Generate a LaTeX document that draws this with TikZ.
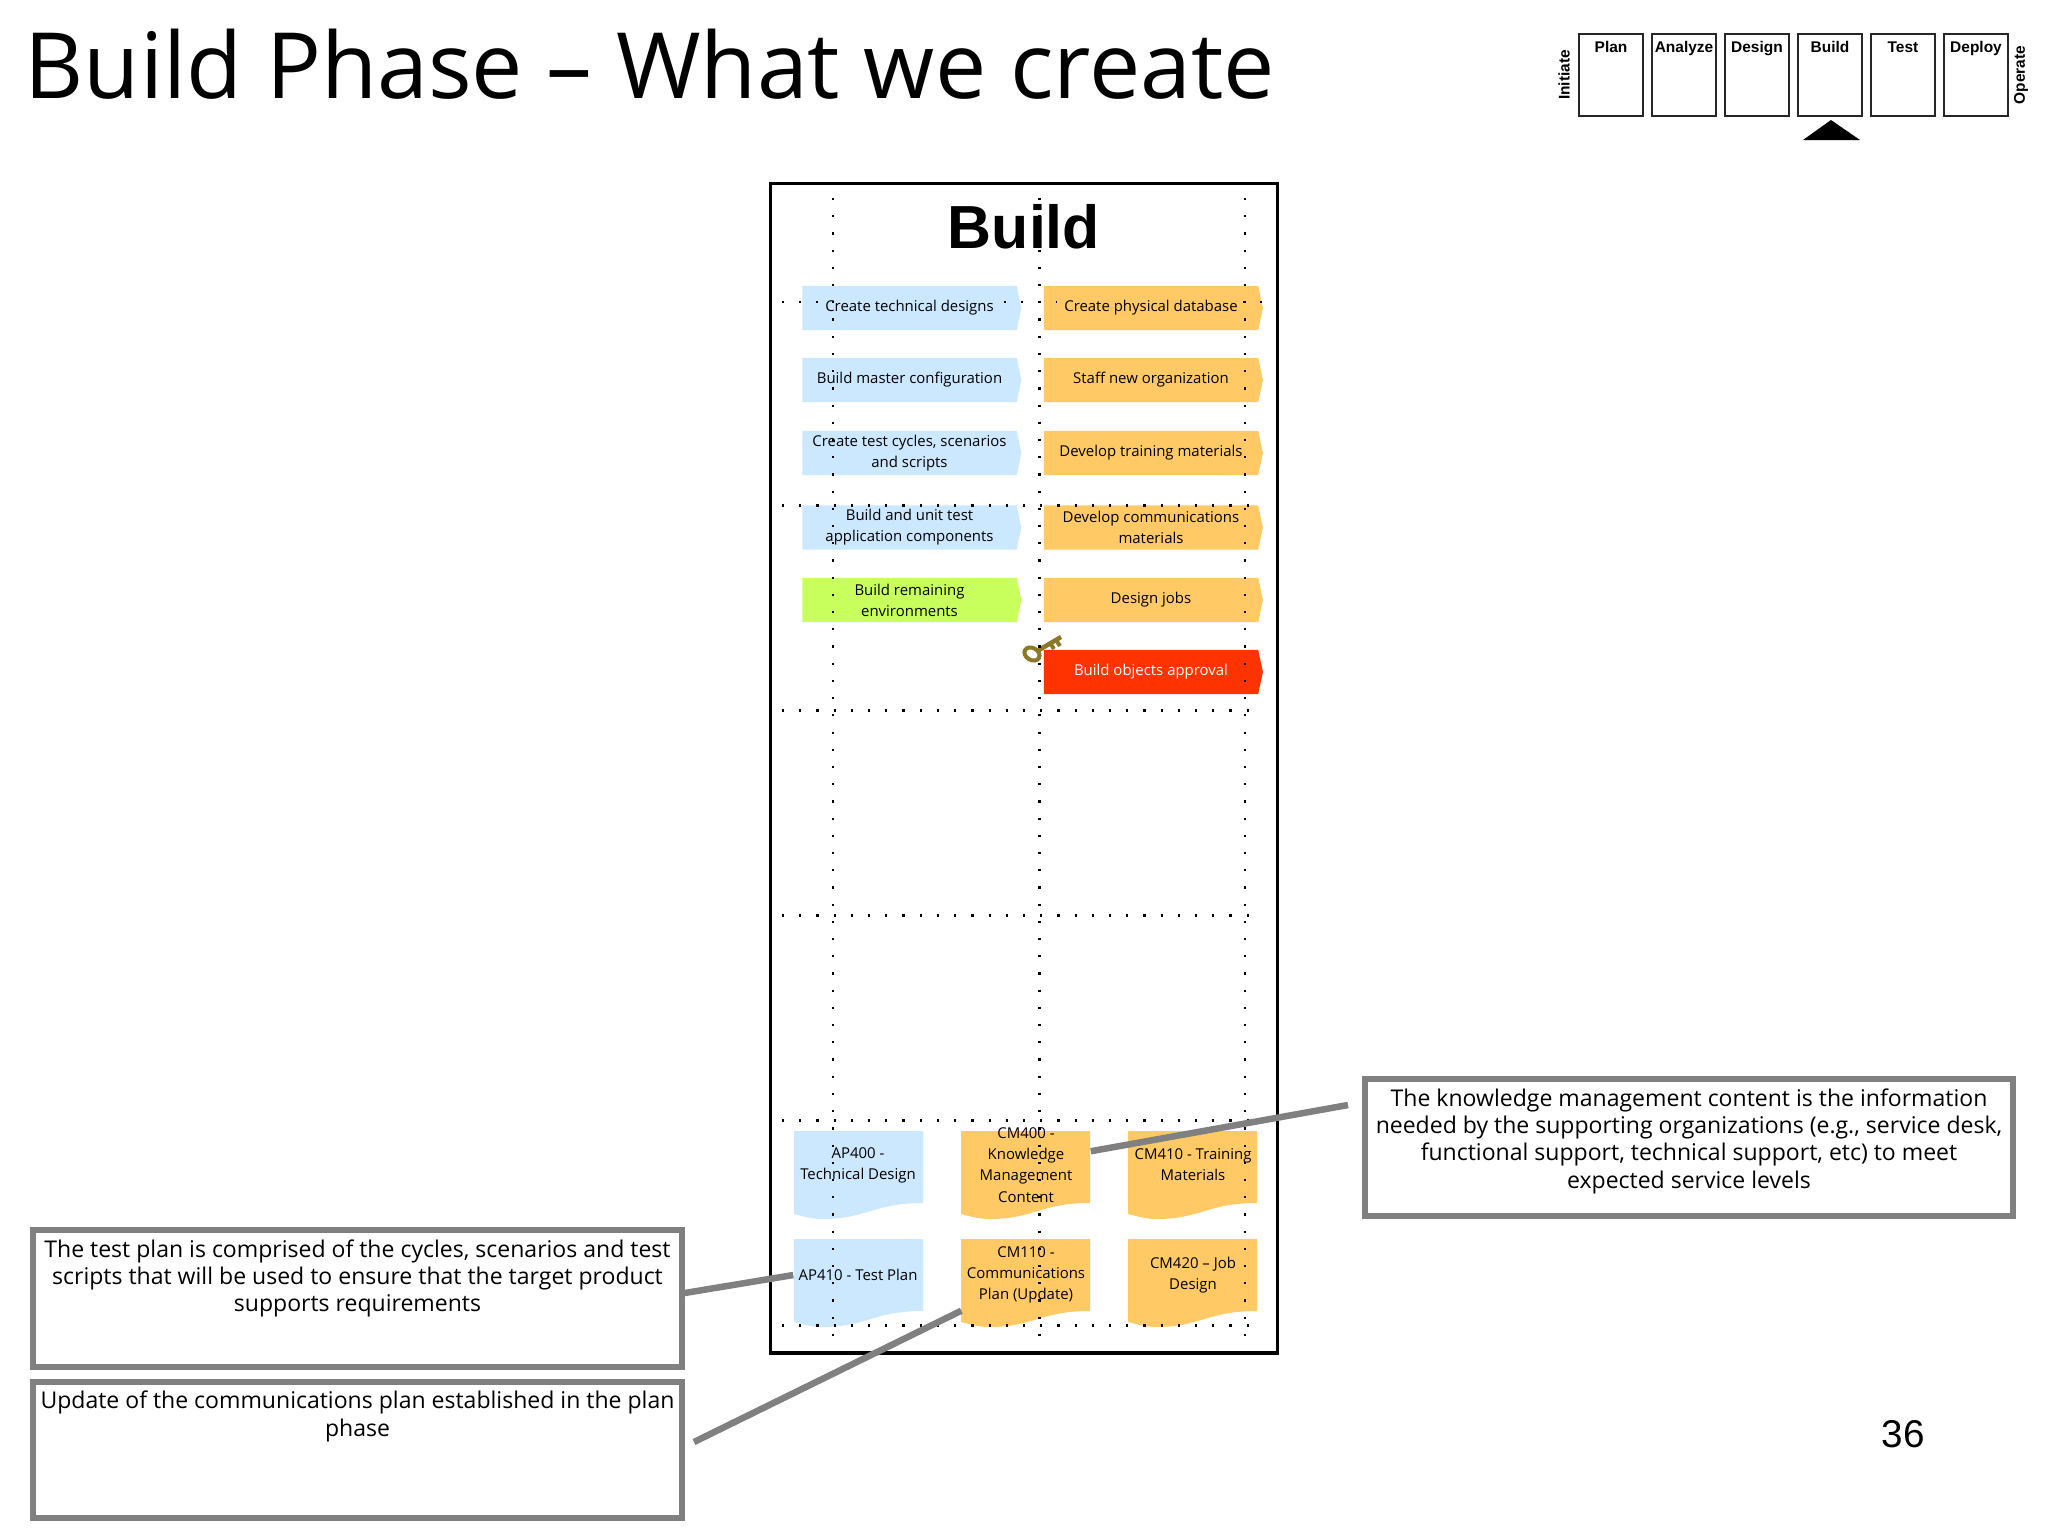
\documentclass[tikz,border=0pt]{standalone}
\usepackage{fontspec}
\setmainfont{Open Sans}
\newfontfamily\navfont{Liberation Sans}
\usetikzlibrary{positioning,shapes.symbols}
\definecolor{barblue}{HTML}{CCE8FF}
\definecolor{barorange}{HTML}{FFC966}
\definecolor{bargreen}{HTML}{C8FF5C}
\definecolor{barred}{HTML}{FF3300}
\definecolor{notegray}{HTML}{808080}
\definecolor{keygold}{HTML}{8A7A28}
\newcommand{\notetext}[1]{\parbox[t][1.18cm][t]{6.44cm}{\centering\fontsize{6.55}{7.8}\selectfont #1}}
\newcommand{\navtext}[1]{\parbox[t][0.67cm][t]{0.64cm}{\centering #1}}
\newcommand{\docfill}[3]{\fill[#1] (#2,#3) -- ++(129,0) -- ++(0,72) .. controls ++(-50,0) and ++(45,0) .. ++(-101,16) .. controls ++(-10,0) and ++(8,2) .. ++(-28,-5) -- cycle;}
\tikzset{
    barnode/.style={signal, signal to=east, signal pointer angle=156, minimum width=2.19cm, minimum height=0.44cm, inner sep=0pt, align=center, font=\fontsize{4.25}{6}\selectfont},
    docnode/.style={minimum width=1.28cm, minimum height=0.7cm, inner sep=0pt, align=center, font=\fontsize{4.25}{6}\selectfont},
    notebox/.style={draw=notegray, line width=0.06cm, fill=white, minimum width=6.48cm, minimum height=1.36cm, inner sep=0pt},
    navbox/.style={draw=black!85, line width=0.022cm, minimum width=0.64cm, minimum height=0.82cm, inner sep=0pt, font=\navfont\bfseries\fontsize{4.4}{5}\selectfont},
    navside/.style={rotate=90, inner sep=0pt, font=\navfont\bfseries\fontsize{4.4}{5}\selectfont},
    griddots/.style={line width=0.022cm, dash pattern=on 0.022cm off 0.15cm},
    noteline/.style={draw=notegray, line width=0.065cm}
}
\begin{document}
\begin{tikzpicture}[x=0.01cm,y=-0.01cm]
    \useasboundingbox (0,0) rectangle (2048,1536);
    % Slide title
    \node[anchor=base west, inner sep=0pt, font=\fontsize{26}{30}\selectfont] (title) at (24,98) {Build Phase -- What we create};

    % Phase strip
    \foreach \name/\x in {Plan/1611,Analyze/1684,Design/1757,Build/1830,Test/1903,Deploy/1976}{
        \node[navbox] (nav\name) at (\x,75) {\navtext{\name}};
    }
    \node[navside] (navinit) at (1564,75) {Initiate};
    \node[navside] (navoper) at (2021,75) {Operate};
    \fill (1831,120) -- (1860,140) -- (1803,140) -- cycle;

    % Frame
    \node[draw, line width=0.033cm, minimum width=5.07cm, minimum height=11.69cm, inner sep=0pt] (frame) at (1024,768) {};
    \node[font=\navfont\bfseries\fontsize{17.3}{20}\selectfont, inner sep=0pt] (buildhead) at (1024,227) {Build};

    % Activity bars
    \node[barnode, fill=barblue] (createtech) at (909.5,308) {Create technical designs};
    \node[barnode, fill=barblue] (buildmaster) at (909.5,380) {Build master configuration};
    \node[barnode, fill=barblue] (createtest) at (909.5,453) {Create test cycles, scenarios\\and scripts};
    \node[barnode, fill=barblue] (buildunit) at (909.5,527.5) {Build and unit test\\application components};
    \node[barnode, fill=bargreen] (buildenv) at (909.5,600) {Build remaining\\environments};
    \node[barnode, fill=barorange] (createdb) at (1151,308) {Create physical database};
    \node[barnode, fill=barorange] (stafforg) at (1151,380) {Staff new organization};
    \node[barnode, fill=barorange] (devtrain) at (1151,453) {Develop training materials};
    \node[barnode, fill=barorange] (devcomm) at (1151,527.5) {Develop communications\\materials};
    \node[barnode, fill=barorange] (designjobs) at (1151,600) {Design jobs};
    \node[barnode, fill=barred, text=white] (approval) at (1151,672) {Build objects approval};

    % Key on the approval
    \draw[keygold, line width=0.04cm, rotate around={-30:(1032,654)}] (1032,654) ellipse (8 and 6);
    \draw[keygold, line width=0.045cm] (1039,650) -- (1061,637);
    \draw[keygold, line width=0.04cm] (1050,643) -- (1054,649) (1056,640) -- (1060,646);

    % Deliverables
    \docfill{barblue}{794}{1131}
    \docfill{barblue}{794}{1239}
    \docfill{barorange}{961}{1131}
    \docfill{barorange}{961}{1239}
    \docfill{barorange}{1128}{1131}
    \docfill{barorange}{1128}{1239}
    \node[docnode] (apfourhundred) at (858,1165) {AP400 -\\Technical Design};
    \node[docnode] (apfourten) at (858,1275) {AP410 - Test Plan};
    \node[docnode] (cmfourhundred) at (1026,1165) {CM400 -\\Knowledge\\Management\\Content};
    \node[docnode] (cmoneten) at (1026,1275) {CM110 -\\Communications\\Plan (Update)};
    \node[docnode] (cmfourten) at (1193,1165) {CM410 - Training\\Materials};
    \node[docnode] (cmfourtwenty) at (1193,1275) {CM420 -- Job\\Design};

    % Dotted grid
    \foreach \x in {833,1039.5,1245}{
        \draw[griddots] (\x,198) -- (\x,1342);
    }
    \foreach \y in {505.5,710.5,915.5,1120.5,1325.5}{
        \draw[griddots] (782,\y) -- (1263,\y);
    }
    \draw[griddots] (782,302) -- (818,302);
    \draw[griddots] (1004,302) -- (1057,302);
    \draw[griddots] (1243,302) -- (1263,302);

    % Notes
    \node[notebox] (notetest) at (357.5,1298.5) {\notetext{The test plan is comprised of the cycles, scenarios and test\\scripts that will be used to ensure that the target product\\supports requirements}};
    \node[notebox] (notecomm) at (357.5,1450) {\notetext{Update of the communications plan established in the plan\\phase}};
    \node[notebox] (noteknow) at (1689,1147.5) {\notetext{The knowledge management content is the information\\needed by the supporting organizations (e.g., service desk,\\functional support, technical support, etc) to meet\\expected service levels}};

    % Callout lines
    \coordinate (knowstart) at (1348,1105);
    \coordinate (commstart) at (694,1442);
    \draw[noteline] (knowstart) -- (cmfourhundred.12);
    \draw[noteline] (notetest.east |- 0,1293) -- (apfourten.west);
    \draw[noteline] (commstart) -- (cmoneten.south west);

    % Page number
    \node[font=\navfont\fontsize{11}{13}\selectfont, inner sep=0pt] (pagenum) at (1903,1434) {36};
\end{tikzpicture}
\end{document}
